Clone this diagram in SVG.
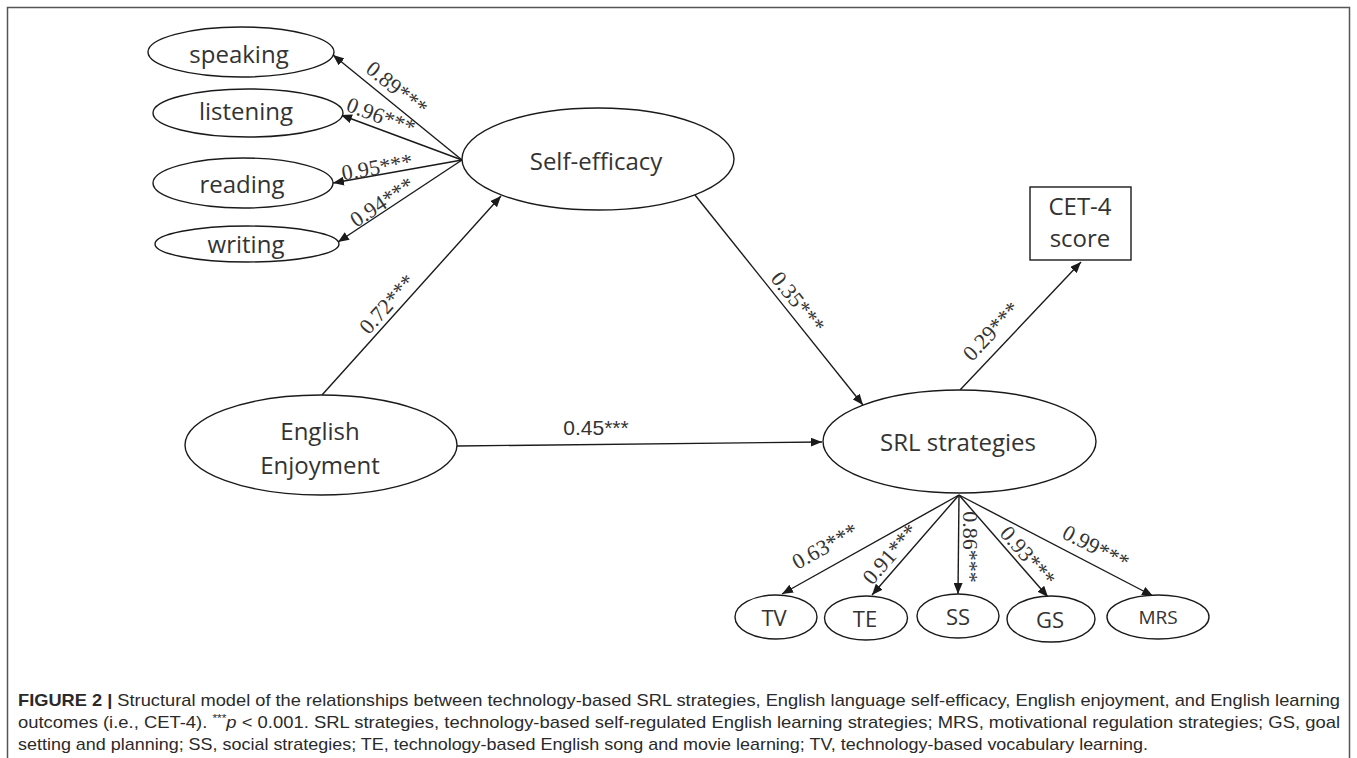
<svg xmlns="http://www.w3.org/2000/svg" width="1357" height="758" viewBox="0 0 1357 758">
<defs>
<marker id="arr" markerUnits="userSpaceOnUse" markerWidth="12" markerHeight="9" refX="11" refY="4.5" orient="auto">
<path d="M0,0 L11,4.5 L0,9 z" fill="#1a1a1a"/>
</marker>
<style>
.node ellipse, .node rect { fill:#fff; stroke:#1a1a1a; stroke-width:1.4; }
.lbl { font-family:"Open Sans","Liberation Sans",sans-serif; font-size:24px; fill:#333; text-anchor:middle; }
.sm { font-size:22px; }
.xs { font-size:19px; }
.edges line { stroke:#1a1a1a; stroke-width:1.4; marker-end:url(#arr); }
.coef { font-family:"Liberation Serif","Times New Roman",serif; font-size:22px; fill:#333; text-anchor:middle; dominant-baseline:central; }
.coef2 { font-family:"Liberation Sans",Arial,sans-serif; font-size:21px; fill:#333; text-anchor:middle; }
.cap { font-family:"Liberation Sans",Arial,sans-serif; font-size:17px; fill:#2a2a2a; }
</style>
</defs>
<rect x="7.5" y="7.5" width="1342" height="790" fill="#fff" stroke="#555" stroke-width="1.5"/>

<g class="edges" id="connectors">
<line x1="462" y1="160" x2="333" y2="55"/>
<line x1="462" y1="160" x2="341" y2="115"/>
<line x1="462" y1="160" x2="333" y2="183"/>
<line x1="462" y1="160" x2="338" y2="242"/>
<line x1="322" y1="395" x2="501" y2="196"/>
<line x1="695" y1="195" x2="863" y2="405"/>
<line x1="457" y1="446" x2="822" y2="442"/>
<line x1="960" y1="390" x2="1081" y2="262"/>
<line x1="959" y1="495" x2="782" y2="594"/>
<line x1="959" y1="495" x2="872" y2="595"/>
<line x1="959" y1="495" x2="958" y2="594"/>
<line x1="959" y1="495" x2="1048" y2="597"/>
<line x1="959" y1="495" x2="1153" y2="596"/>
</g>

<g id="edge-labels">
<text class="coef" transform="translate(397,88) rotate(39)">0.89***</text>
<text class="coef" transform="translate(381,116) rotate(20.4)">0.96***</text>
<text class="coef" transform="translate(377,167) rotate(-10)">0.95***</text>
<text class="coef" transform="translate(382,202) rotate(-33.5)">0.94***</text>
<text class="coef" transform="translate(387,304) rotate(-48)">0.72***</text>
<text class="coef" transform="translate(798,302) rotate(51)">0.35***</text>
<text class="coef" transform="translate(991,331) rotate(-46.6)">0.29***</text>
<text class="coef2" x="596" y="435">0.45***</text>
<text class="coef" transform="translate(825,546) rotate(-29)">0.63***</text>
<text class="coef" transform="translate(890,554) rotate(-49)">0.91***</text>
<text class="coef" transform="translate(970,547) rotate(90)">0.86***</text>
<text class="coef" transform="translate(1028,556) rotate(48.9)">0.93***</text>
<text class="coef" transform="translate(1096,547) rotate(27.5)">0.99***</text>
</g>

<g class="node" id="speaking"><ellipse cx="241" cy="52" rx="93" ry="25"/><text class="lbl" x="239" y="63">speaking</text></g>
<g class="node" id="listening"><ellipse cx="248" cy="113" rx="95" ry="24"/><text class="lbl" x="246" y="120">listening</text></g>
<g class="node" id="reading"><ellipse cx="243" cy="183" rx="90" ry="25"/><text class="lbl" x="242" y="193">reading</text></g>
<g class="node" id="writing"><ellipse cx="247" cy="244" rx="92" ry="18"/><text class="lbl" x="246" y="253">writing</text></g>
<g class="node" id="self-efficacy"><ellipse cx="598" cy="159" rx="136" ry="51"/><text class="lbl" x="596" y="170">Self-efficacy</text></g>
<g class="node" id="english-enjoyment"><ellipse cx="321" cy="445" rx="136" ry="50"/><text class="lbl" x="320" y="440">English</text><text class="lbl" x="320" y="474">Enjoyment</text></g>
<g class="node" id="srl"><ellipse cx="959.5" cy="441.5" rx="136.5" ry="51.5"/><text class="lbl" x="958" y="451">SRL strategies</text></g>
<g class="node" id="cet4"><rect x="1030" y="187" width="101" height="73"/><text class="lbl" x="1080" y="215">CET-4</text><text class="lbl" x="1080" y="247">score</text></g>
<g class="node" id="tv"><ellipse cx="776" cy="617" rx="41" ry="22"/><text class="lbl sm" x="774" y="626">TV</text></g>
<g class="node" id="te"><ellipse cx="866" cy="618" rx="41.5" ry="22"/><text class="lbl sm" x="865" y="627">TE</text></g>
<g class="node" id="ss"><ellipse cx="958" cy="616" rx="41" ry="22"/><text class="lbl sm" x="958" y="625">SS</text></g>
<g class="node" id="gs"><ellipse cx="1051" cy="619" rx="44" ry="23"/><text class="lbl sm" x="1050" y="628">GS</text></g>
<g class="node" id="mrs"><ellipse cx="1158" cy="617" rx="51" ry="22"/><text class="lbl xs" x="1158" y="624">MRS</text></g>

<g id="caption">
<text class="cap" x="18" y="706" textLength="1322" lengthAdjust="spacingAndGlyphs"><tspan font-weight="bold">FIGURE 2 | </tspan>Structural model of the relationships between technology-based SRL strategies, English language self-efficacy, English enjoyment, and English learning</text>
<text class="cap" x="18" y="728" textLength="1322" lengthAdjust="spacingAndGlyphs">outcomes (i.e., CET-4). <tspan font-size="11" dy="-6">***</tspan><tspan font-style="italic" dy="6">p</tspan> &lt; 0.001. SRL strategies, technology-based self-regulated English learning strategies; MRS, motivational regulation strategies; GS, goal</text>
<text class="cap" x="18" y="750" textLength="1130" lengthAdjust="spacingAndGlyphs">setting and planning; SS, social strategies; TE, technology-based English song and movie learning; TV, technology-based vocabulary learning.</text>
</g>
</svg>
